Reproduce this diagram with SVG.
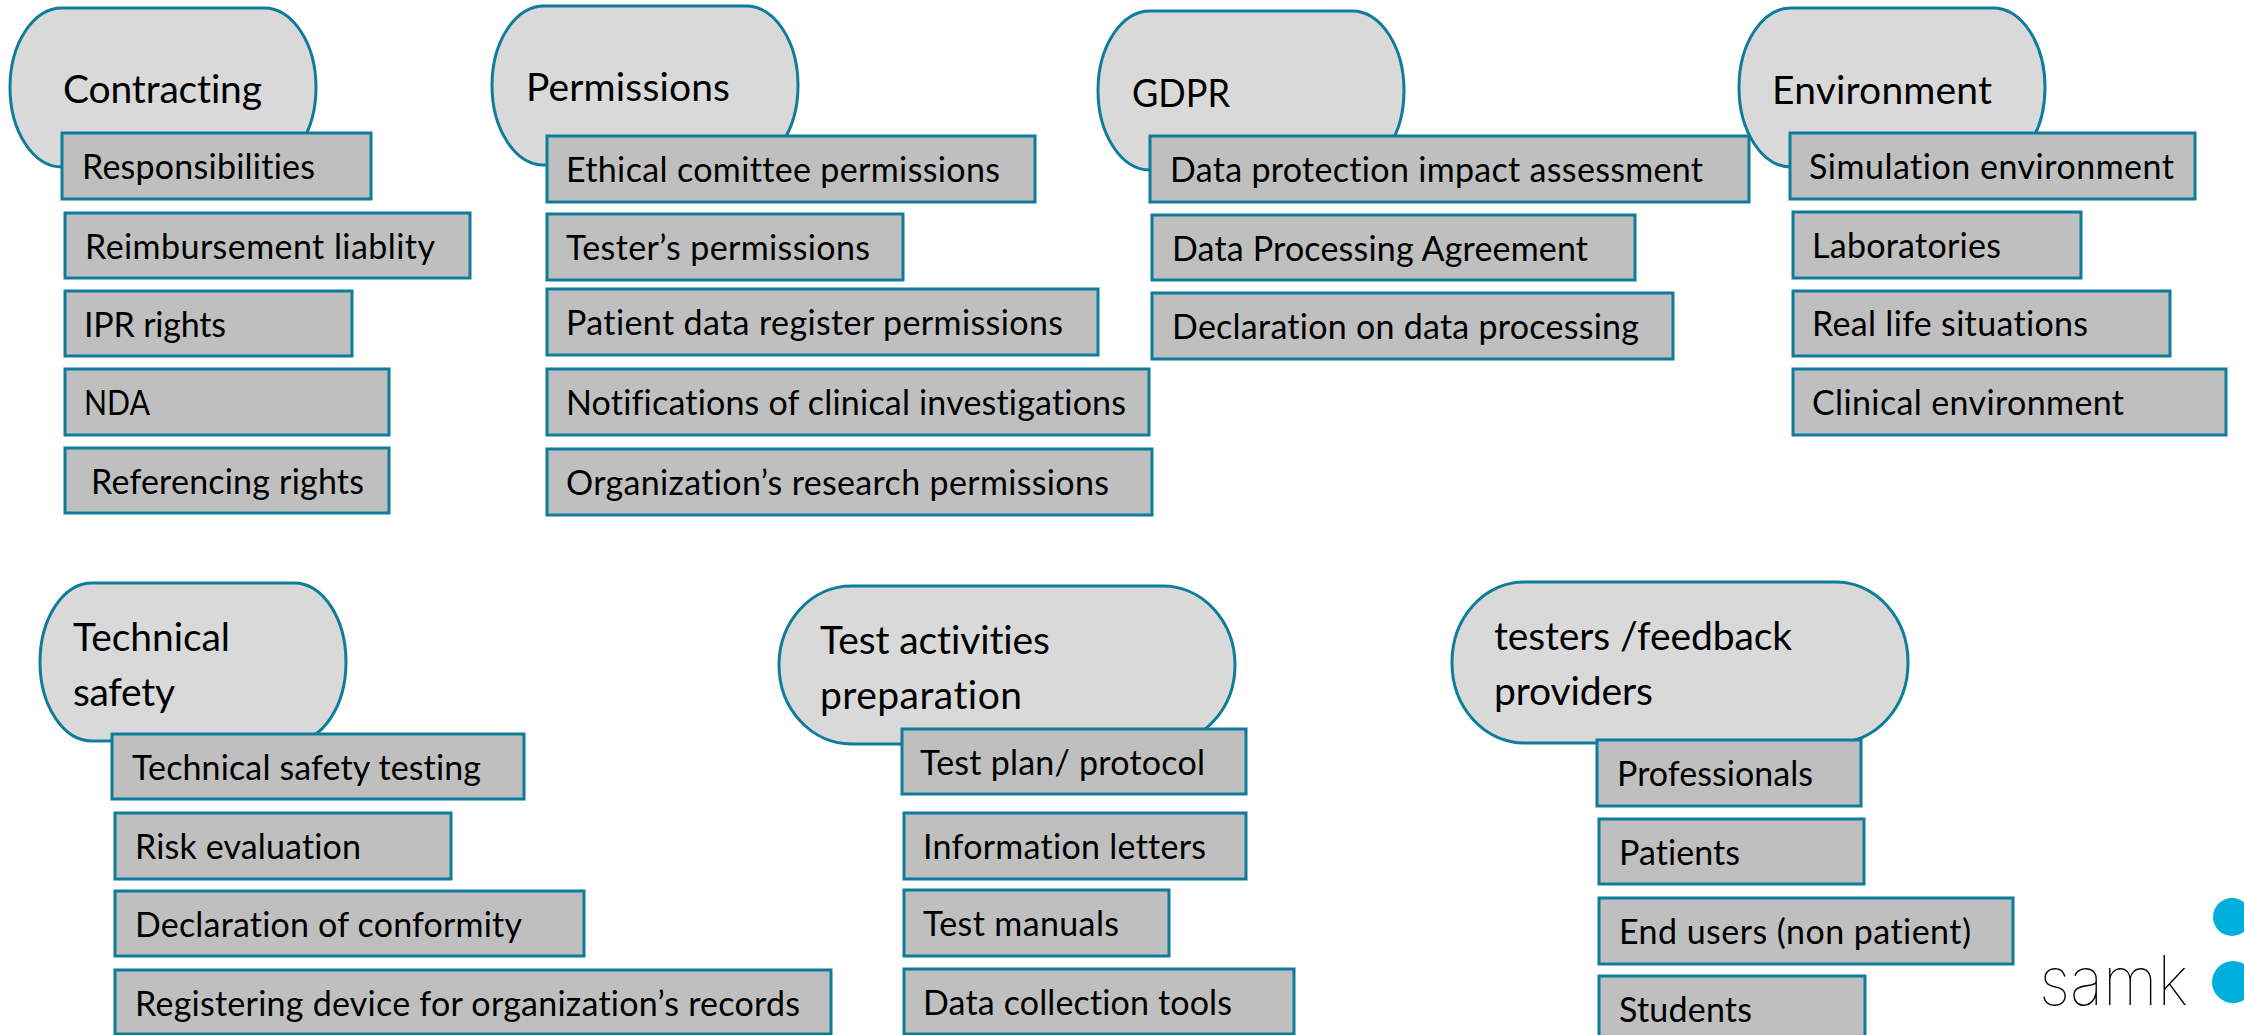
<svg xmlns="http://www.w3.org/2000/svg" width="2244" height="1035" viewBox="0 0 2244 1035">
<style>
.p{fill:#d9d9d9;stroke:#0e7c9b;stroke-width:3}
.r{fill:#bfbfbf;stroke:#0e7c9b;stroke-width:3}
text{font-family:"Lato","Open Sans",sans-serif;fill:#000;font-variant-ligatures:none}
.t{font-size:39px}
.s{font-size:34px}
.k{font-family:"Inter","Lato",sans-serif;font-weight:100;font-size:68px;fill:#000}
.c{fill:#00aedb}
</style>
<rect width="2244" height="1035" fill="#fff"/>
<g id="connectors"/>
<g id="contracting">
<rect class="p" x="10" y="8" width="306" height="159" rx="52" ry="80"/>
<text class="t" x="63" y="103" textLength="199">Contracting</text>
</g>
<g id="responsibilities"><rect class="r" x="62" y="133" width="309" height="66"/><text class="s" x="82" y="179" textLength="233">Responsibilities</text></g>
<g id="reimbursement"><rect class="r" x="65" y="213" width="405" height="65"/><text class="s" x="85" y="259" textLength="350">Reimbursement liablity</text></g>
<g id="ipr"><rect class="r" x="65" y="291" width="287" height="65"/><text class="s" x="84" y="337" textLength="142">IPR rights</text></g>
<g id="nda"><rect class="r" x="65" y="369" width="324" height="66"/><text class="s" x="84" y="415" textLength="66" lengthAdjust="spacingAndGlyphs">NDA</text></g>
<g id="referencing"><rect class="r" x="65" y="448" width="324" height="65"/><text class="s" x="91" y="494" textLength="273">Referencing rights</text></g>

<g id="permissions">
<rect class="p" x="492" y="6" width="306" height="159" rx="52" ry="80"/>
<text class="t" x="526" y="101" textLength="204">Permissions</text>
</g>
<g id="ethical"><rect class="r" x="547" y="136" width="488" height="66"/><text class="s" x="566" y="182" textLength="434">Ethical comittee permissions</text></g>
<g id="testers-perm"><rect class="r" x="547" y="214" width="356" height="66"/><text class="s" x="566" y="260" textLength="304">Tester’s permissions</text></g>
<g id="patient-data"><rect class="r" x="547" y="289" width="551" height="66"/><text class="s" x="566" y="335" textLength="497">Patient data register permissions</text></g>
<g id="notifications"><rect class="r" x="547" y="369" width="602" height="66"/><text class="s" x="566" y="415" textLength="560">Notifications of clinical investigations</text></g>
<g id="organization"><rect class="r" x="547" y="449" width="605" height="66"/><text class="s" x="566" y="495" textLength="543">Organization’s research permissions</text></g>

<g id="gdpr">
<rect class="p" x="1098" y="11" width="306" height="159" rx="52" ry="80"/>
<text class="t" x="1132" y="107" textLength="98" lengthAdjust="spacingAndGlyphs">GDPR</text>
</g>
<g id="dpia"><rect class="r" x="1150" y="136" width="599" height="66"/><text class="s" x="1170" y="182" textLength="533">Data protection impact assessment</text></g>
<g id="dpa"><rect class="r" x="1152" y="215" width="483" height="65"/><text class="s" x="1172" y="261" textLength="416">Data Processing Agreement</text></g>
<g id="declaration-data"><rect class="r" x="1152" y="293" width="521" height="66"/><text class="s" x="1172" y="339" textLength="467">Declaration on data processing</text></g>

<g id="environment">
<rect class="p" x="1739" y="8" width="306" height="159" rx="52" ry="80"/>
<text class="t" x="1772" y="104" textLength="220">Environment</text>
</g>
<g id="simulation"><rect class="r" x="1790" y="133" width="405" height="66"/><text class="s" x="1809" y="179" textLength="365">Simulation environment</text></g>
<g id="laboratories"><rect class="r" x="1793" y="212" width="288" height="66"/><text class="s" x="1812" y="258" textLength="189">Laboratories</text></g>
<g id="real-life"><rect class="r" x="1793" y="291" width="377" height="65"/><text class="s" x="1812" y="336" textLength="276">Real life situations</text></g>
<g id="clinical"><rect class="r" x="1793" y="369" width="433" height="66"/><text class="s" x="1812" y="415" textLength="312">Clinical environment</text></g>

<g id="technical-safety">
<rect class="p" x="40" y="583" width="306" height="158" rx="52" ry="79"/>
<text class="t" x="73" y="651" textLength="157">Technical</text>
<text class="t" x="73" y="706" textLength="102">safety</text>
</g>
<g id="tech-testing"><rect class="r" x="112" y="734" width="412" height="65"/><text class="s" x="132" y="780" textLength="349">Technical safety testing</text></g>
<g id="risk"><rect class="r" x="115" y="813" width="336" height="66"/><text class="s" x="135" y="859" textLength="226">Risk evaluation</text></g>
<g id="conformity"><rect class="r" x="115" y="891" width="469" height="65"/><text class="s" x="135" y="937" textLength="387">Declaration of conformity</text></g>
<g id="registering"><rect class="r" x="115" y="970" width="716" height="64"/><text class="s" x="135" y="1016" textLength="665">Registering device for organization’s records</text></g>

<g id="test-activities">
<rect class="p" x="779" y="586" width="456" height="158" rx="72" ry="79"/>
<text class="t" x="820" y="654" textLength="230">Test activities</text>
<text class="t" x="820" y="709" textLength="202">preparation</text>
</g>
<g id="test-plan"><rect class="r" x="902" y="729" width="344" height="65"/><text class="s" x="920" y="775" textLength="285">Test plan/ protocol</text></g>
<g id="info-letters"><rect class="r" x="904" y="813" width="342" height="66"/><text class="s" x="923" y="859" textLength="283">Information letters</text></g>
<g id="test-manuals"><rect class="r" x="904" y="890" width="265" height="66"/><text class="s" x="923" y="936" textLength="196">Test manuals</text></g>
<g id="data-tools"><rect class="r" x="904" y="969" width="390" height="65"/><text class="s" x="923" y="1015" textLength="309">Data collection tools</text></g>

<g id="testers">
<rect class="p" x="1452" y="582" width="456" height="161" rx="72" ry="80"/>
<text class="t" x="1494" y="650" textLength="298">testers /feedback</text>
<text class="t" x="1494" y="705" textLength="159">providers</text>
</g>
<g id="professionals"><rect class="r" x="1597" y="740" width="264" height="66"/><text class="s" x="1617" y="786" textLength="196">Professionals</text></g>
<g id="patients"><rect class="r" x="1599" y="819" width="265" height="65"/><text class="s" x="1619" y="865" textLength="121">Patients</text></g>
<g id="end-users"><rect class="r" x="1599" y="898" width="414" height="66"/><text class="s" x="1619" y="944" textLength="352">End users (non patient)</text></g>
<g id="students"><rect class="r" x="1599" y="976" width="266" height="66"/><text class="s" x="1619" y="1022" textLength="133">Students</text></g>

<g id="logo">
<text class="k" x="2039" y="1005" textLength="149" lengthAdjust="spacingAndGlyphs">samk</text>
<circle class="c" cx="2232" cy="917" r="19"/>
<circle class="c" cx="2233" cy="982" r="21"/>
</g>
</svg>
